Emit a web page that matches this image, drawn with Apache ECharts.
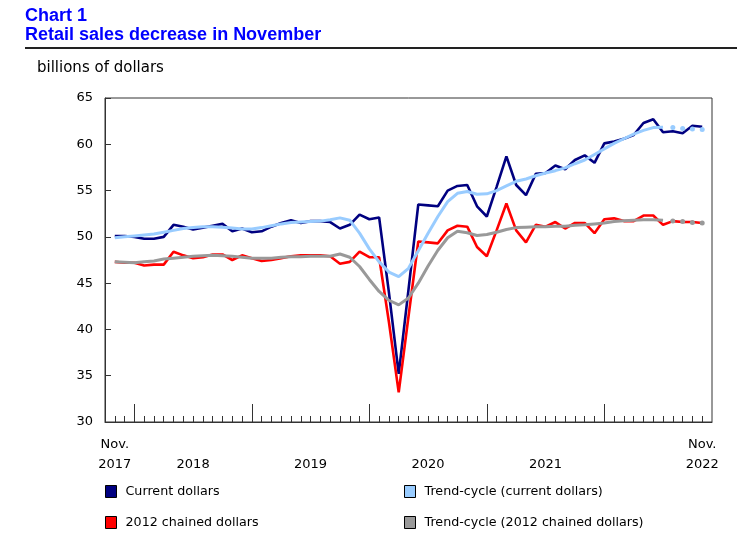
<!DOCTYPE html>
<html>
<head>
<meta charset="utf-8">
<script src="https://cdn.jsdelivr.net/npm/echarts@6/dist/echarts.min.js"></script>
<style>
  html, body { margin: 0; padding: 0; background: #fff; }
  #chart { width: 737px; height: 538px; }
</style>
</head>
<body>
<div id="chart"></div>
<script>
// months on the axis, with one empty month of padding at each end
const months = [
  '2017-10', '2017-11', '2017-12',
  '2018-01', '2018-02', '2018-03', '2018-04', '2018-05', '2018-06', '2018-07', '2018-08', '2018-09', '2018-10', '2018-11', '2018-12',
  '2019-01', '2019-02', '2019-03', '2019-04', '2019-05', '2019-06', '2019-07', '2019-08', '2019-09', '2019-10', '2019-11', '2019-12',
  '2020-01', '2020-02', '2020-03', '2020-04', '2020-05', '2020-06', '2020-07', '2020-08', '2020-09', '2020-10', '2020-11', '2020-12',
  '2021-01', '2021-02', '2021-03', '2021-04', '2021-05', '2021-06', '2021-07', '2021-08', '2021-09', '2021-10', '2021-11', '2021-12',
  '2022-01', '2022-02', '2022-03', '2022-04', '2022-05', '2022-06', '2022-07', '2022-08', '2022-09', '2022-10', '2022-11', '2022-12'
];
const tickLabels = {
  '2017-11': 'Nov.\n2017',
  '2018-07': '\n2018',
  '2019-07': '\n2019',
  '2020-07': '\n2020',
  '2021-07': '\n2021',
  '2022-11': 'Nov.\n2022'
};

// Nov 2017 .. Nov 2022, billions of dollars
const currentDollars = [
  50.1, 50.1, 50.0, 49.8, 49.8, 50.0, 51.3, 51.1, 50.8, 51.0, 51.2, 51.4,
  50.6, 50.9, 50.5, 50.6, 51.1, 51.5, 51.8, 51.5, 51.7, 51.7, 51.6, 50.9,
  51.3, 52.4, 51.9, 52.1, 44.0, 35.2, 44.3, 53.5, 53.4, 53.3, 55.0, 55.5,
  55.6, 53.3, 52.2, 55.4, 58.7, 55.6, 54.5, 56.8, 56.9, 57.7, 57.3, 58.3,
  58.8, 58.0, 60.1, 60.3, 60.6, 61.0, 62.3, 62.7, 61.3, 61.4, 61.2, 62.0,
  61.9
];
const chainedDollars = [
  47.3, 47.2, 47.2, 46.9, 47.0, 47.0, 48.4, 48.0, 47.7, 47.8, 48.1, 48.1,
  47.5, 48.0, 47.7, 47.4, 47.5, 47.7, 47.9, 48.0, 48.0, 48.0, 47.9, 47.1,
  47.3, 48.4, 47.8, 47.8, 40.8, 33.2, 41.4, 49.5, 49.4, 49.3, 50.7, 51.2,
  51.1, 48.9, 47.9, 50.7, 53.6, 50.7, 49.4, 51.3, 51.1, 51.6, 50.9, 51.5,
  51.5, 50.4, 51.9, 52.0, 51.7, 51.7, 52.3, 52.3, 51.3, 51.7, 51.6, 51.6,
  51.5
];
const trendCurrent = [
  49.9, 50.0, 50.1, 50.2, 50.3, 50.5, 50.7, 50.9, 51.0, 51.1, 51.1, 51.05,
  50.95, 50.85, 50.85, 51.0, 51.2, 51.4, 51.55, 51.6, 51.65, 51.7, 51.85, 52.05,
  51.8, 50.4, 48.7, 47.3, 46.2, 45.7, 46.6, 48.5, 50.4, 52.2, 53.8, 54.7,
  54.9, 54.6, 54.65, 55.0, 55.5, 56.0, 56.25, 56.6, 56.9, 57.15, 57.45, 57.9,
  58.3, 58.9, 59.5, 60.1, 60.6, 61.1, 61.5, 61.8, 61.85, 61.8, 61.7, 61.65,
  61.6
];
const trendChained = [
  47.3, 47.25, 47.2, 47.3, 47.4, 47.6, 47.7, 47.8, 47.9, 47.95, 48.0, 47.95,
  47.9, 47.8, 47.7, 47.7, 47.7, 47.8, 47.85, 47.85, 47.9, 47.9, 47.9, 48.15,
  47.8, 46.8, 45.4, 44.1, 43.15, 42.65, 43.4, 45.0, 46.85, 48.55, 49.9, 50.6,
  50.45, 50.15, 50.25, 50.5, 50.8, 51.0, 51.05, 51.1, 51.1, 51.15, 51.15, 51.25,
  51.3, 51.4, 51.5, 51.65, 51.75, 51.8, 51.85, 51.85, 51.8, 51.7, 51.65, 51.55,
  51.5
];
// last months of the trend-cycle are provisional (drawn as dots)
const provisionalMonths = 4;

const font = '"DejaVu Sans", Verdana, sans-serif';

function pad(arr) {
  return [null].concat(arr, [null]);
}
const lastFirm = currentDollars.length - 1 - provisionalMonths;
function firm(arr) {
  return pad(arr.map((v, i) => (i <= lastFirm ? v : null)));
}
function provisional(arr) {
  return pad(arr.map((v, i) => (i > lastFirm ? v : null)));
}

const chart = echarts.init(document.getElementById('chart'));

// one legend per entry so the 2x2 layout is exact
function legendAt(name, left, top) {
  return {
    left: left,
    top: top,
    data: [name],
    icon: 'rect',
    itemWidth: 11,
    itemHeight: 12,
    selectedMode: false,
    padding: 0,
    itemStyle: { borderColor: '#000', borderWidth: 1 },
    textStyle: { fontFamily: font, fontSize: 12.7, color: '#000', padding: [0, 0, 0, 4] }
  };
}

const option = {
  animation: false,
  backgroundColor: '#fff',
  graphic: [
    { type: 'text', left: 25, top: 7, style: { text: 'Chart 1', font: 'bold 18px "Liberation Sans", Arial, sans-serif', fill: '#0000ff' } },
    { type: 'text', left: 25, top: 26, style: { text: 'Retail sales decrease in November', font: 'bold 18px "Liberation Sans", Arial, sans-serif', fill: '#0000ff' } },
    { type: 'line', shape: { x1: 25, y1: 48, x2: 737, y2: 48 }, style: { stroke: '#222', lineWidth: 2 } },
    { type: 'text', left: 37, top: 61, style: { text: 'billions of dollars', font: '15px ' + font, fill: '#000' } }
  ],
  legend: [
    legendAt('Current dollars', 105, 485),
    legendAt('2012 chained dollars', 105, 516),
    legendAt('Trend-cycle (current dollars)', 404, 485),
    legendAt('Trend-cycle (2012 chained dollars)', 404, 516)
  ],
  grid: {
    left: 105, right: 25, top: 98, bottom: 116,
    show: true, borderColor: '#333', borderWidth: 1
  },
  xAxis: [
    {
      type: 'category',
      data: months,
      boundaryGap: false,
      axisLine: { lineStyle: { color: '#333' } },
      axisTick: {
        inside: true, length: 6,
        interval: (i) => i > 0 && i < months.length - 1,
        lineStyle: { color: '#333' }
      },
      axisLabel: {
        interval: (i, v) => v in tickLabels,
        formatter: (v) => tickLabels[v] || '',
        fontFamily: font, fontSize: 13, color: '#000',
        lineHeight: 20, margin: 13
      },
      splitLine: { show: false }
    },
    {
      type: 'category',
      data: months,
      boundaryGap: false,
      position: 'bottom',
      axisLine: { show: false },
      axisTick: {
        inside: true, length: 18,
        interval: (i, v) => v.endsWith('-01'),
        lineStyle: { color: '#333' }
      },
      axisLabel: { show: false },
      splitLine: { show: false }
    }
  ],
  yAxis: {
    type: 'value',
    min: 30, max: 65, interval: 5,
    axisLine: { show: true, lineStyle: { color: '#333' } },
    axisTick: { show: true, inside: true, length: 6, lineStyle: { color: '#333' } },
    axisLabel: { fontFamily: font, fontSize: 13, color: '#000', margin: 12 },
    splitLine: { show: false }
  },
  series: [
    {
      name: 'Current dollars', type: 'line', data: pad(currentDollars),
      symbol: 'none', color: '#000080',
      lineStyle: { color: '#000080', width: 2.6 }
    },
    {
      name: '2012 chained dollars', type: 'line', data: pad(chainedDollars),
      symbol: 'none', color: '#ff0000',
      lineStyle: { color: '#ff0000', width: 2.6 }
    },
    {
      name: 'Trend-cycle (current dollars)', type: 'line', data: firm(trendCurrent),
      symbol: 'none', color: '#99ccff',
      lineStyle: { color: '#99ccff', width: 3 }
    },
    {
      name: 'Trend-cycle (2012 chained dollars)', type: 'line', data: firm(trendChained),
      symbol: 'none', color: '#999999',
      lineStyle: { color: '#999999', width: 3 }
    },
    {
      name: 'trend-current-provisional', type: 'line', data: provisional(trendCurrent),
      symbol: 'circle', symbolSize: 5, showSymbol: true,
      itemStyle: { color: '#99ccff' }, lineStyle: { opacity: 0 }
    },
    {
      name: 'trend-chained-provisional', type: 'line', data: provisional(trendChained),
      symbol: 'circle', symbolSize: 5, showSymbol: true,
      itemStyle: { color: '#999999' }, lineStyle: { opacity: 0 }
    }
  ]
};

chart.setOption(option);
</script>
</body>
</html>
